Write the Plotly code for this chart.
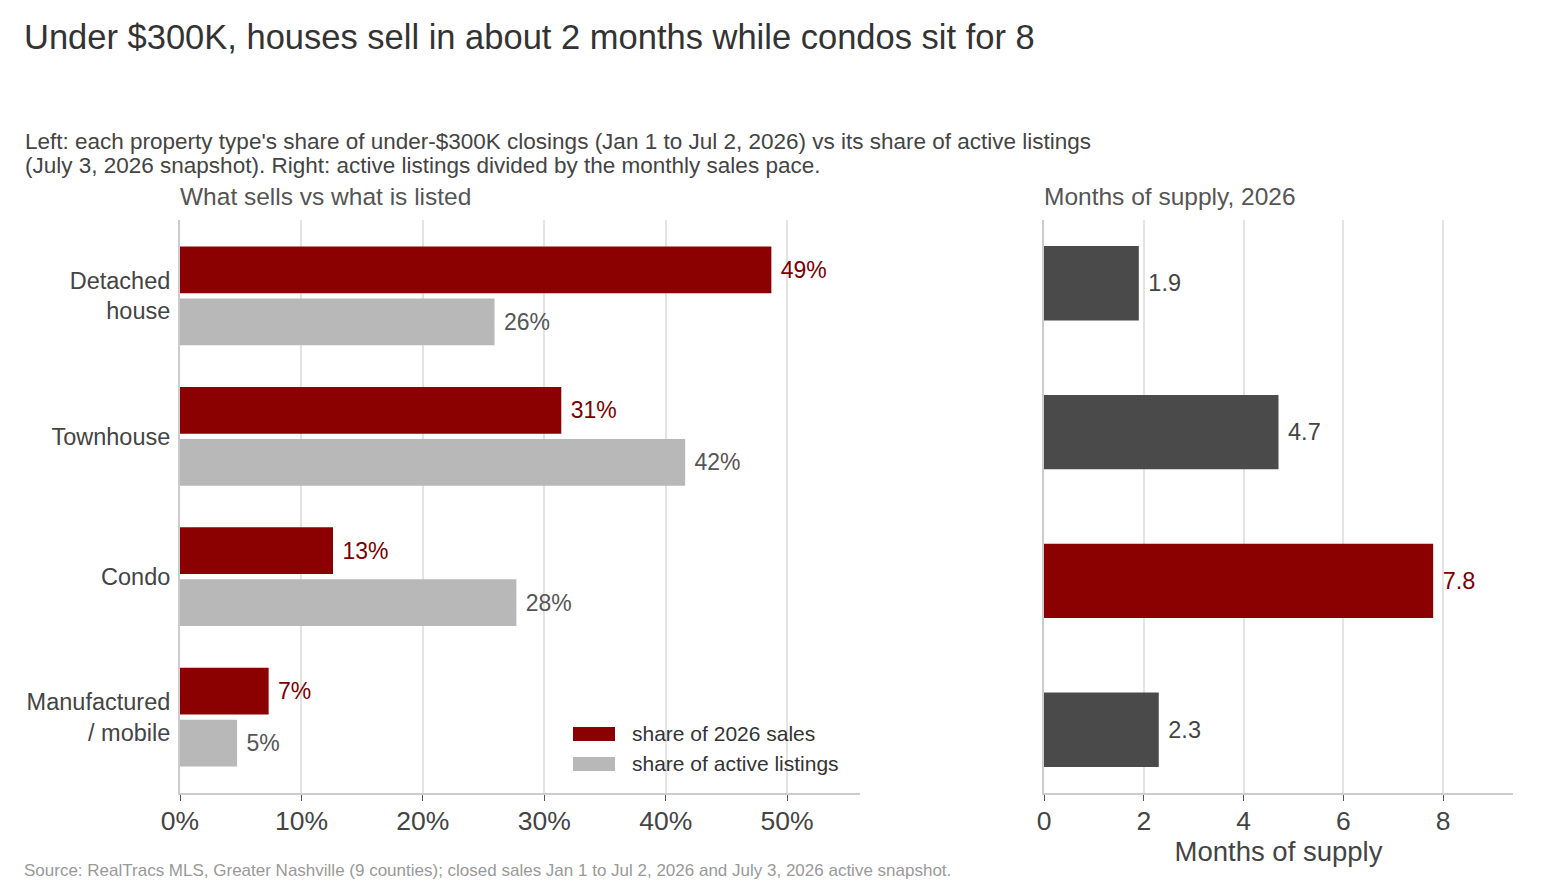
import plotly.graph_objects as go

W, H = 1568, 896

categories = ["Detached<br>house", "Townhouse", "Condo", "Manufactured<br>/ mobile"]
sales_share = [48.7, 31.4, 12.6, 7.3]
listing_share = [25.9, 41.6, 27.7, 4.7]
months_supply = [1.9, 4.7, 7.8, 2.3]
series_names = ["share of 2026 sales", "share of active listings"]
share_ticks = [0, 10, 20, 30, 40, 50]
month_ticks = [0, 2, 4, 6, 8]

RED = "#8b0000"
RED_TXT = "#7a0000"
GREY = "#b8b8b8"
DARK = "#4a4a4a"
FONT = "Liberation Sans, Arial, sans-serif"


def px_x(p):
    return p / W


def px_y(p):
    return 1 - p / H


fig = go.Figure()

fig.add_trace(go.Bar(
    y=categories, x=sales_share, orientation="h", name=series_names[0], showlegend=False,
    marker=dict(color=RED, line=dict(width=0)),
    texttemplate="\u00a0%{x:.0f}%", textposition="outside",
    textfont=dict(color=RED_TXT, size=23, family=FONT),
    cliponaxis=False, xaxis="x", yaxis="y", hoverinfo="skip",
))
fig.add_trace(go.Bar(
    y=categories, x=listing_share, orientation="h", name=series_names[1], showlegend=False,
    marker=dict(color=GREY, line=dict(width=0)),
    texttemplate="\u00a0%{x:.0f}%", textposition="outside",
    textfont=dict(color="#555555", size=23, family=FONT),
    cliponaxis=False, xaxis="x", yaxis="y", hoverinfo="skip",
))

mx = max(months_supply)
fig.add_trace(go.Bar(
    y=categories, x=months_supply, orientation="h", showlegend=False,
    marker=dict(color=[RED if v == mx else DARK for v in months_supply], line=dict(width=0)),
    texttemplate="\u00a0%{x:.1f}", textposition="outside",
    textfont=dict(color=[RED_TXT if v == mx else "#444444" for v in months_supply], size=23.5, family=FONT),
    cliponaxis=False, xaxis="x2", yaxis="y2", hoverinfo="skip", width=0.5,
))

ydom = [px_y(793), px_y(220)]

fig.update_layout(
    width=W, height=H,
    margin=dict(l=0, r=0, t=0, b=0, autoexpand=False),
    paper_bgcolor="white", plot_bgcolor="white",
    font=dict(family=FONT, color="#444444"),
    barmode="group", bargap=0.26, bargroupgap=0.1,
    showlegend=False,
    xaxis=dict(
        domain=[px_x(180), px_x(860)], range=[0, 56], tickvals=share_ticks,
        ticktext=[f"{t}%" for t in share_ticks],
        showgrid=True, gridcolor="#e3e3e3", gridwidth=2, zeroline=False,
        showline=True, linecolor="#cccccc", linewidth=2,
        ticks="outside", ticklen=6, tickcolor="#555555", tickwidth=1,
        tickfont=dict(size=26.5, color="#444444"), ticklabelstandoff=-3,
        anchor="y", automargin=False,
    ),
    yaxis=dict(
        domain=ydom, type="category", range=[3.54, -0.54],
        showgrid=False, zeroline=False, showline=True, linecolor="#cccccc", linewidth=2,
        ticks="", tickfont=dict(size=23.5, color="#444444"), ticklabelstandoff=3,
        anchor="x", automargin=False,
    ),
    xaxis2=dict(
        domain=[px_x(1044), px_x(1513)], range=[0, 9.4], tickvals=month_ticks,
        showgrid=True, gridcolor="#e3e3e3", gridwidth=2, zeroline=False,
        showline=True, linecolor="#cccccc", linewidth=2,
        ticks="outside", ticklen=6, tickcolor="#555555", tickwidth=1,
        tickfont=dict(size=26.5, color="#444444"), ticklabelstandoff=-3,
        anchor="y2", automargin=False,
        title=dict(text="Months of supply", font=dict(size=27.5, color="#444444"), standoff=4),
    ),
    yaxis2=dict(
        domain=ydom, type="category", range=[3.425, -0.425],
        showgrid=False, zeroline=False, showline=True, linecolor="#cccccc", linewidth=2,
        showticklabels=False, ticks="", anchor="x2", automargin=False,
    ),
)

ann = [
    dict(text="Under $300K, houses sell in about 2 months while condos sit for 8",
         x=px_x(21.5), y=px_y(37), xanchor="left", yanchor="middle",
         font=dict(size=34.5, color="#333333")),
    dict(text="Left: each property type's share of under-$300K closings (Jan 1 to Jul 2, 2026) vs its share of active listings",
         x=px_x(22.5), y=px_y(142), xanchor="left", yanchor="middle",
         font=dict(size=22.5, color="#444444")),
    dict(text="(July 3, 2026 snapshot). Right: active listings divided by the monthly sales pace.",
         x=px_x(22.5), y=px_y(165), xanchor="left", yanchor="middle",
         font=dict(size=22.5, color="#444444")),
    dict(text="What sells vs what is listed", x=px_x(178), y=px_y(197), xanchor="left", yanchor="middle",
         font=dict(size=24.5, color="#555555")),
    dict(text="Months of supply, 2026", x=px_x(1042), y=px_y(197), xanchor="left", yanchor="middle",
         font=dict(size=24.5, color="#555555")),
    dict(text="Source: RealTracs MLS, Greater Nashville (9 counties); closed sales Jan 1 to Jul 2, 2026 and July 3, 2026 active snapshot.",
         x=px_x(22), y=px_y(870), xanchor="left", yanchor="middle",
         font=dict(size=17, color="#999999")),
]

# custom legend (wide swatches like the reference)
shapes = []
for i, (name, col) in enumerate(zip(series_names, [RED, GREY])):
    cy = 734 + 30 * i
    shapes.append(dict(type="rect", xref="paper", yref="paper",
                       x0=px_x(573), x1=px_x(615), y0=px_y(cy + 7), y1=px_y(cy - 7),
                       fillcolor=col, line=dict(width=0)))
    ann.append(dict(text=name, x=px_x(630), y=px_y(cy - 1), xanchor="left", yanchor="middle",
                    font=dict(size=21, color="#333333")))

for a in ann:
    a.update(xref="paper", yref="paper", showarrow=False)
fig.update_layout(annotations=ann, shapes=shapes)

fig.write_html("out.html")
